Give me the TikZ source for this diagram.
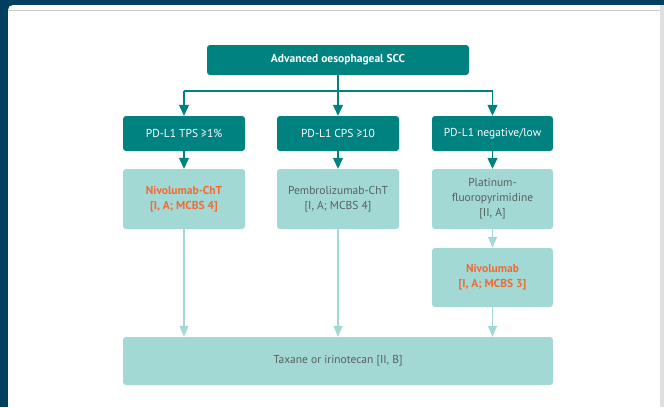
\documentclass[tikz,border=0pt]{standalone}
\usepackage{fontspec}
\setmainfont{PT Sans}
\usepackage{xcolor}
\usetikzlibrary{arrows.meta}
\definecolor{navy}{HTML}{003F5F}
\definecolor{teal1}{HTML}{008280}
\definecolor{teal2}{HTML}{A3D9D5}
\definecolor{txtgrey}{HTML}{56605F}
\definecolor{orng}{HTML}{F26A35}
\newcommand{\hilite}[1]{\textcolor{orng}{\bfseries #1}}
\tikzset{
  darkbox/.style={rectangle, rounded corners=3pt, fill=teal1, text=white, align=center,
    font=\fontsize{11.5}{14}\selectfont, inner sep=0pt},
  lightbox/.style={rectangle, rounded corners=3pt, fill=teal2, text=txtgrey, align=center,
    font=\fontsize{11.5}{15}\selectfont, inner sep=0pt},
  darkarrow/.style={teal1, line width=1.2pt, -{Triangle[width=10pt,length=11pt]}},
  lightarrow/.style={teal2, line width=1.2pt, -{Triangle[width=9pt,length=11pt]}}
}
\begin{document}
\begin{tikzpicture}[x=1pt,y=-1pt]
\useasboundingbox (0,0) rectangle (664,407);

% frame
\fill[navy] (0,0) rectangle (664,407);
\fill[white, rounded corners=5pt] (8,5) rectangle (672,420);
\fill[gray!25] (660,5) rectangle (664,407);
\draw[gray!40, line width=0.8pt] (8,10.5) -- (660,10.5);

% top
\node[darkbox, minimum width=262, minimum height=30] (adv) at (338,60) {\bfseries Advanced oesophageal SCC};

% pd-l1 row
\node[darkbox, minimum width=122, minimum height=35] (tps) at (184,133.5) {PD-L1 TPS ≥1\%};
\node[darkbox, minimum width=122, minimum height=35] (cps) at (338,133.5) {PD-L1 CPS ≥10};
\node[darkbox, minimum width=121, minimum height=35] (neg) at (492.5,133.5) {PD-L1 negative/low};

% treatments
\node[lightbox, minimum width=122, minimum height=60] (nivochT) at (184,199) {\hilite{Nivolumab-ChT}\\\hilite{[I, A; MCBS 4]}};
\node[lightbox, minimum width=122, minimum height=60] (pembro) at (338,199) {Pembrolizumab-ChT\\{}[I, A; MCBS 4]};
\node[lightbox, minimum width=121, minimum height=60] (plat) at (492.5,199) {Platinum-\\fluoropyrimidine\\{}[II, A]};
\node[lightbox, minimum width=121, minimum height=59] (nivo) at (492.5,277.5) {\hilite{Nivolumab}\\\hilite{[I, A; MCBS 3]}};
\node[lightbox, minimum width=430, minimum height=48] (tax) at (338,361) {Taxane or irinotecan [II, B]};

% connectors
\coordinate (jl) at (184,91);
\coordinate (jr) at (492.5,91);
\draw[teal1, line width=1.2pt] (jl) -- (jr);
\draw[darkarrow] (adv) -- (cps);
\draw[darkarrow] (jl) -- (tps);
\draw[darkarrow] (jr) -- (neg);
\draw[darkarrow] (tps) -- (nivochT);
\draw[darkarrow] (cps) -- (pembro);
\draw[darkarrow] (neg) -- (plat);
\draw[lightarrow] (plat) -- (nivo);
\draw[lightarrow] (nivochT) -- (nivochT.south |- tax.north);
\draw[lightarrow] (pembro) -- (pembro.south |- tax.north);
\draw[lightarrow] (nivo) -- (nivo.south |- tax.north);

\end{tikzpicture}
\end{document}
